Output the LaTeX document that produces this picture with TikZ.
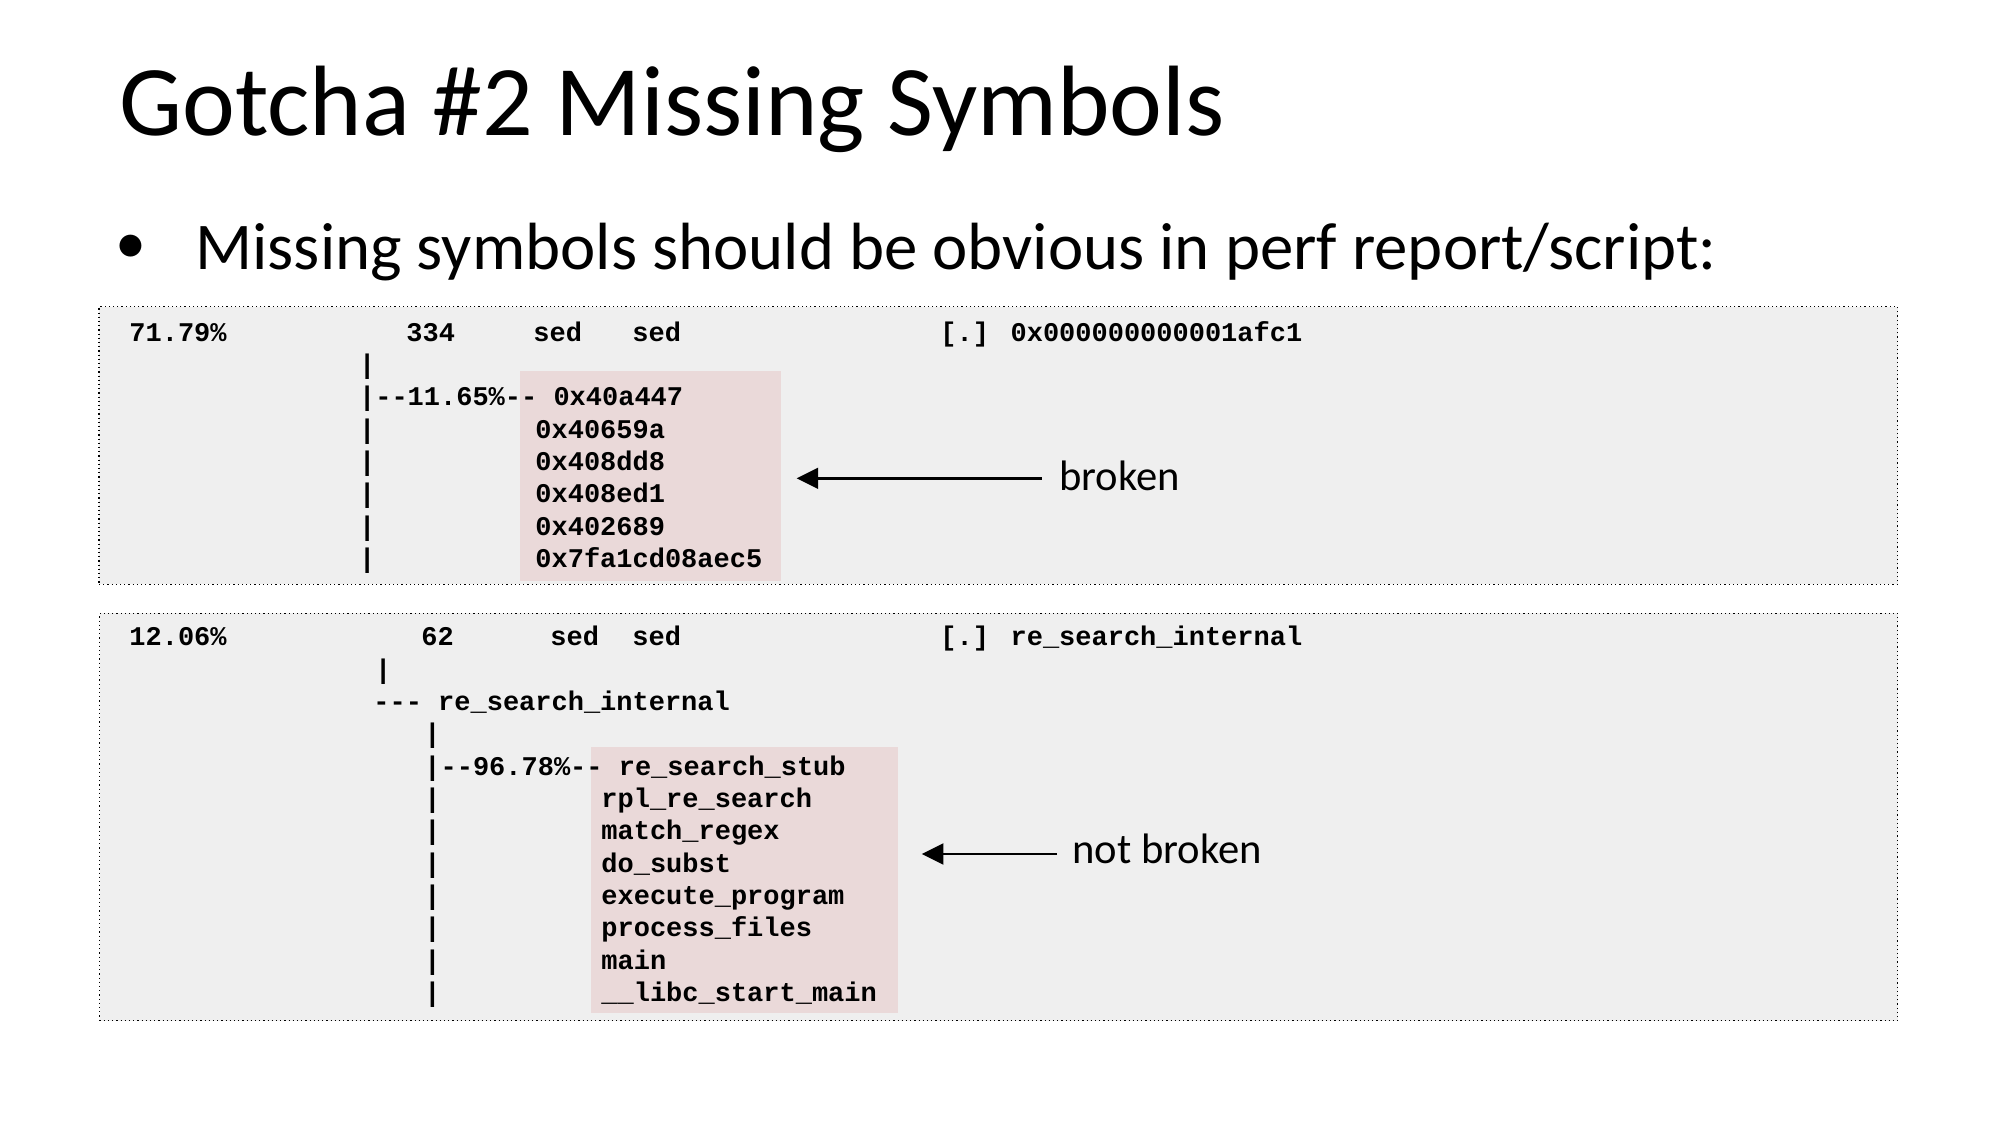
\documentclass[tikz,border=0pt]{standalone}
\usepackage{fontspec}
\setmainfont{Carlito}
\newfontfamily\mono{Liberation Mono}
\usetikzlibrary{arrows.meta}
\definecolor{boxgray}{RGB}{239,239,239}
\definecolor{boxpink}{RGB}{234,217,217}
\begin{document}
\begin{tikzpicture}[x=0.5pt,y=-0.5pt,
  code/.style={anchor=base west,inner sep=0pt,font=\mono\bfseries\fontsize{13.5}{16}\selectfont},
  panel/.style={fill=boxgray,draw=black,line width=0.6pt,dash pattern=on 0.6pt off 1.5pt,
                anchor=north west,inner sep=0pt,outer sep=0pt},
  hilite/.style={fill=boxpink,draw=none,inner sep=0pt,outer sep=0pt,anchor=north west},
  note/.style={anchor=base west,inner sep=0pt,font=\fontsize{21.3}{26}\selectfont},
  arr/.style={-{Triangle[length=10.8pt,width=10.4pt]},line width=1.35pt}]

\useasboundingbox (0,0) rectangle (1998,1125);
\fill[white] (0,0) rectangle (1998,1125);

% title and bullet
\node[anchor=base west,inner sep=0pt,font=\fontsize{50}{60}\selectfont] (title) at (119,135.7) {Gotcha \#2 Missing Symbols};
\node[inner sep=0pt,font=\fontsize{31}{38}\selectfont] (bul) at (131,249.3) {•};
\node[anchor=base west,inner sep=0pt,font=\fontsize{33.4}{40}\selectfont] (sub) at (195,269.5) {Missing symbols should be obvious in perf report/script:};

% panels
\node[panel,minimum width=899.35pt,minimum height=138.8pt] (panel1) at (99,306.7) {};
\node[panel,minimum width=899.1pt,minimum height=203.7pt] (panel2) at (99.5,613.3) {};
\node[hilite,minimum width=130.3pt,minimum height=105pt] (pink1) at (520,371) {};
\node[hilite,minimum width=153.55pt,minimum height=133.15pt] (pink2) at (590.6,746.7) {};

% box 1
\node[code] (h1a) at (129,341) {71.79\%};
\node[code] (h1b) at (406,341) {334};
\node[code] (h1c) at (533,341) {sed};
\node[code] (h1d) at (632,341) {sed};
\node[code] (h1e) at (940,341) {[.] 0x000000000001afc1};
\node[code] (b1r1) at (358.7,373.35) {|};
\node[code] (b1r2) at (358.7,405.7) {|-{}-11.65\%-{}- 0x40a447};
\foreach \t [count=\i from 3] in {0x40659a,0x408dd8,0x408ed1,0x402689,0x7fa1cd08aec5} {
  \node[code] (b1bar\i) at (358.7,{341+\i*32.35}) {|};
  \node[code] (b1fn\i) at (535,{341+\i*32.35}) {\t};
}

% box 2
\node[code] (h2a) at (129,645.7) {12.06\%};
\node[code] (h2b) at (421,645.7) {62};
\node[code] (h2c) at (550,645.7) {sed};
\node[code] (h2d) at (632,645.7) {sed};
\node[code] (h2e) at (940,645.7) {[.] re\_search\_internal};
\node[code] (b2r1) at (374.7,678.05) {|};
\node[code] (b2r2) at (373,710.4) {-{}-{}- re\_search\_internal};
\node[code] (b2r3) at (424,742.75) {|};
\node[code] (b2r4) at (424,775.1) {|-{}-96.78\%-{}- re\_search\_stub};
\foreach \t [count=\i from 5] in {rpl\_re\_search,match\_regex,do\_subst,execute\_program,process\_files,main,\_\_libc\_start\_main} {
  \node[code] (b2bar\i) at (424,{645.7+\i*32.35}) {|};
  \node[code] (b2fn\i) at (601,{645.7+\i*32.35}) {\t};
}

% annotations
\node[note] (lab1) at (1059,490) {broken};
\node[note] (lab2) at (1072,863) {not broken};
\coordinate (a1s) at (1041.7,478.3);
\coordinate (a2s) at (1057,854);
\draw[arr,shorten >=8pt] (a1s) -- (a1s -| pink1.east);
\draw[arr,shorten >=12pt] (a2s) -- (a2s -| pink2.east);
\end{tikzpicture}
\end{document}
